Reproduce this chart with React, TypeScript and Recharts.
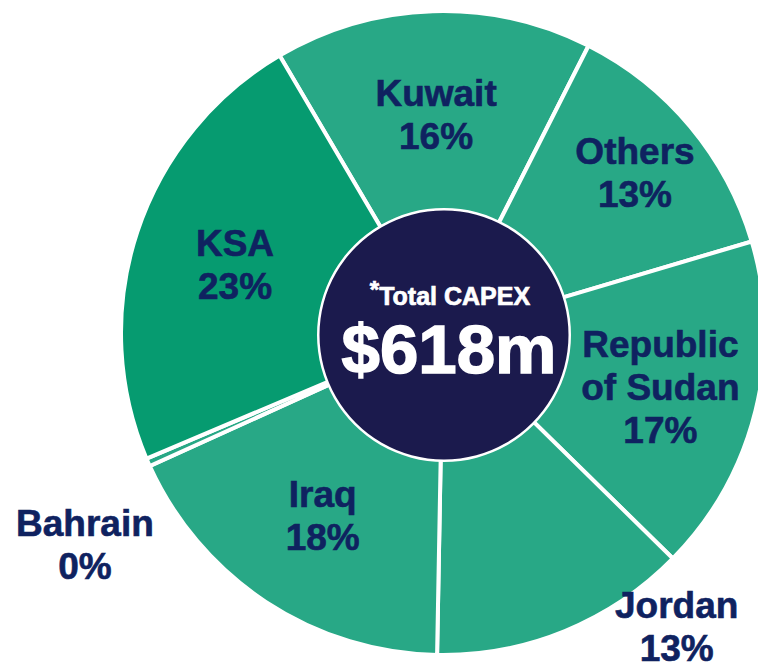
import React from "react";
import { PieChart, Pie, Cell } from "recharts";

const countries = ["Kuwait", "Others", "Republic of Sudan", "Jordan", "Iraq", "Bahrain", "KSA"];
const labelLines = [["Kuwait"], ["Others"], ["Republic", "of Sudan"], ["Jordan"], ["Iraq"], ["Bahrain"], ["KSA"]];
const capexShare = [16, 13, 17, 13, 18, 0.4, 23];
const totalLabel = "Total CAPEX";
const totalCapex = "$618m";

const GREEN = "#28a886";
const DARK_GREEN = "#069b70";
const NAVY_TEXT = "#0f2260";
const NAVY_FILL = "#1b1a4d";
const FONT = "'Liberation Sans', Arial, sans-serif";

const data = countries.map((name, i) => ({ name, value: capexShare[i] }));
const centerData = [{ name: totalLabel, value: 1 }];

// labels sitting outside the pie, or pushed a bit further out
const LABEL_TWEAK: Record<string, { r?: number; turn?: number }> = {
  Others: { r: 250 },
  "Republic of Sudan": { r: 224 },
  Jordan: { r: 375, turn: 16.3 },
  Bahrain: { r: 416, turn: 6.9 },
};

const RAD = Math.PI / 180;
const LINE_H = 43;

function renderLabel(props: any) {
  const { cx, cy, midAngle, index, value } = props;
  const tweak = LABEL_TWEAK[countries[index]] ?? {};
  const r = tweak.r ?? 219;
  const a = (midAngle + (tweak.turn ?? 0)) * RAD;
  const x = cx + r * Math.cos(a);
  const y = cy - r * Math.sin(a);
  const lines = [...labelLines[index], `${Math.round(value)}%`];
  const y0 = y - ((lines.length - 1) * LINE_H) / 2 + 13;
  return (
    <text
      key={`lbl-${index}`}
      x={x}
      y={y0}
      textAnchor="middle"
      fontFamily={FONT}
      fontWeight={700}
      fontSize={37}
      fill={NAVY_TEXT}
      stroke={NAVY_TEXT}
      strokeWidth={0.6}
    >
      {lines.map((t, i) => (
        <tspan key={i} x={x} y={y0 + i * LINE_H}>
          {t}
        </tspan>
      ))}
    </text>
  );
}

function renderCenter(props: any) {
  const { cx, cy } = props;
  return (
    <g key="center">
      <text
        x={cx + 6}
        y={cy - 30}
        textAnchor="middle"
        fontFamily={FONT}
        fontWeight={700}
        fill="#ffffff"
        stroke="#ffffff"
        strokeWidth={0.7}
      >
        <tspan fontSize={24} dy={-7}>*</tspan>
        <tspan fontSize={25} dy={7}>{totalLabel}</tspan>
      </text>
      <text
        x={cx + 5}
        y={cy + 38}
        textAnchor="middle"
        fontFamily={FONT}
        fontWeight={700}
        fontSize={69}
        fill="#ffffff"
        stroke="#ffffff"
        strokeWidth={1.5}
      >
        {totalCapex}
      </text>
    </g>
  );
}

export default function App() {
  return (
    <div style={{ position: "absolute", left: 0, top: 0, background: "#fff" }}>
      <PieChart width={758} height={663}>
        <Pie
          data={data}
          dataKey="value"
          nameKey="name"
          cx={438}
          cy={328}
          outerRadius={322}
          startAngle={120.5}
          endAngle={-239.5}
          stroke="#ffffff"
          strokeWidth={4}
          label={renderLabel}
          labelLine={false}
          isAnimationActive={false}
        >
          {data.map((d) => (
            <Cell key={d.name} fill={d.name === "KSA" ? DARK_GREEN : GREEN} />
          ))}
        </Pie>
        <Pie
          data={centerData}
          dataKey="value"
          cx={439}
          cy={330}
          outerRadius={127}
          startAngle={90}
          endAngle={-270}
          fill="#ffffff"
          stroke="none"
          label={false}
          isAnimationActive={false}
        />
        <Pie
          data={centerData}
          dataKey="value"
          cx={439}
          cy={330}
          outerRadius={124.5}
          startAngle={90}
          endAngle={-270}
          fill={NAVY_FILL}
          stroke="none"
          label={renderCenter}
          labelLine={false}
          isAnimationActive={false}
        />
      </PieChart>
    </div>
  );
}
